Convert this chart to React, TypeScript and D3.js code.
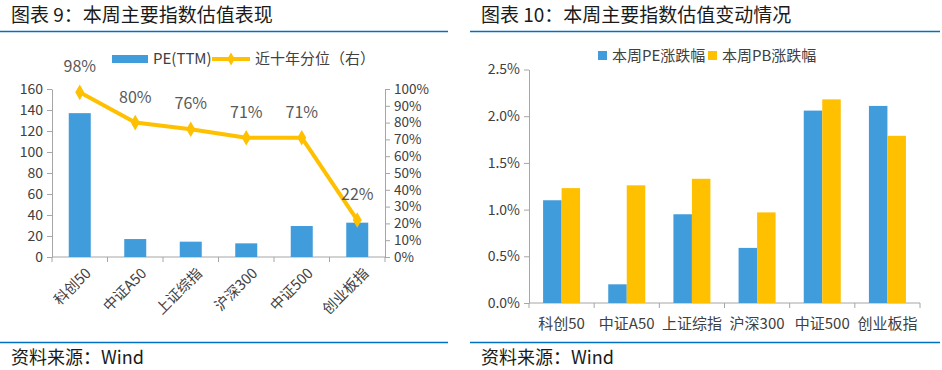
import React, { useEffect, useRef } from "react";
import * as d3 from "d3";

// data
const categories = ["科创50", "中证A50", "上证综指", "沪深300", "中证500", "创业板指"];
const peTTM = [137, 17.1, 14.6, 13, 29.5, 32.7];
const pePercentile = [98, 80, 76, 71, 71, 22];
const peChange = [1.10, 0.20, 0.95, 0.59, 2.06, 2.11];
const pbChange = [1.23, 1.26, 1.33, 0.97, 2.18, 1.79];
const leftTicks = [0, 20, 40, 60, 80, 100, 120, 140, 160];
const rightTicks = [0, 10, 20, 30, 40, 50, 60, 70, 80, 90, 100];
const changeTicks = [0, 0.5, 1.0, 1.5, 2.0, 2.5];

const BLUE = "#419CDC";
const YELLOW = "#FFC000";
const HEAD = "#0070C0";
const AXIS = "#A6A6A6";
const TXT = "#404040";
const FONT = "'Noto Sans CJK SC', 'Noto Sans', sans-serif";

const App = () => {
	const ref = useRef(null);

	useEffect(() => {
		const svg = d3.select(ref.current);
		svg.selectAll("*").remove();
		svg.style("font-family", FONT);

		// headers and footers for both panels
		const panels = [
			{ x0: 0, x1: 448, title: "图表 9：本周主要指数估值表现" },
			{ x0: 470, x1: 940, title: "图表 10：本周主要指数估值变动情况" },
		];
		panels.forEach(p => {
			svg.append("text").attr("x", p.x0 + 11).attr("y", 22)
				.attr("font-size", 19).attr("fill", "#1a1a1a").text(p.title);
			svg.append("line").attr("x1", p.x0).attr("x2", p.x1).attr("y1", 31.5).attr("y2", 31.5)
				.attr("stroke", HEAD).attr("stroke-width", 1.5);
			svg.append("line").attr("x1", p.x0).attr("x2", p.x1).attr("y1", 342.5).attr("y2", 342.5)
				.attr("stroke", HEAD).attr("stroke-width", 1.5);
			svg.append("text").attr("x", p.x0 + 11).attr("y", 364)
				.attr("font-size", 18).attr("fill", "#1a1a1a").text("资料来源：Wind");
		});

		// ---------- left chart ----------
		const g1 = svg.append("g");
		const x1 = d3.scaleBand().domain(categories).range([52, 385]).paddingInner(0).paddingOuter(0);
		const yL = d3.scaleLinear().domain([0, 160]).range([257, 89]);
		const yR = d3.scaleLinear().domain([0, 100]).range([257, 89]);

		g1.append("g").attr("transform", "translate(52,0)")
			.call(d3.axisLeft(yL).tickValues(leftTicks).tickSize(5).tickSizeOuter(0).tickPadding(4))
			.call(a => a.selectAll("text").attr("font-size", 14).attr("fill", TXT).style("font-family", FONT))
			.call(a => a.selectAll("line,path").attr("stroke", AXIS));
		g1.append("g").attr("transform", "translate(385,0)")
			.call(d3.axisRight(yR).tickValues(rightTicks).tickSize(5).tickSizeOuter(0).tickPadding(4).tickFormat(d => d + "%"))
			.call(a => a.selectAll("text").attr("font-size", 13.5).attr("fill", TXT).style("font-family", FONT))
			.call(a => a.selectAll("line,path").attr("stroke", AXIS));

		// x axis with ticks at band edges
		g1.append("line").attr("x1", 52).attr("x2", 385).attr("y1", 257).attr("y2", 257).attr("stroke", AXIS);
		g1.selectAll(".xt").data(categories.concat(["end"])).join("line")
			.attr("x1", (d, i) => 52 + i * x1.bandwidth()).attr("x2", (d, i) => 52 + i * x1.bandwidth())
			.attr("y1", 257).attr("y2", 262).attr("stroke", AXIS);

		const bw1 = 22;
		g1.selectAll(".bar").data(peTTM).join("rect")
			.attr("x", (d, i) => x1(categories[i]) + x1.bandwidth() / 2 - bw1 / 2)
			.attr("y", d => yL(d)).attr("width", bw1).attr("height", d => yL(0) - yL(d))
			.attr("fill", BLUE);

		const cx = (i) => x1(categories[i]) + x1.bandwidth() / 2;
		const line = d3.line().x((d, i) => cx(i)).y(d => yR(d));
		g1.append("path").datum(pePercentile).attr("d", line)
			.attr("fill", "none").attr("stroke", YELLOW).attr("stroke-width", 4).attr("stroke-linejoin", "round");
		g1.selectAll(".mk").data(pePercentile).join("path")
			.attr("d", d3.symbol().type(d3.symbolDiamond).size(70))
			.attr("transform", (d, i) => `translate(${cx(i)},${yR(d)})`)
			.attr("fill", YELLOW);
		g1.selectAll(".lb").data(pePercentile).join("text")
			.attr("x", (d, i) => cx(i)).attr("y", d => yR(d) - 20)
			.attr("text-anchor", "middle").attr("font-size", 16).attr("fill", "#595959")
			.text(d => d + "%");

		g1.selectAll(".xl").data(categories).join("text")
			.attr("transform", (d, i) => `translate(${cx(i) + 5},${267}) rotate(-45)`)
			.attr("text-anchor", "end").attr("dy", "0.7em").attr("font-size", 14.5).attr("fill", TXT)
			.text(d => d);

		// legend
		g1.append("rect").attr("x", 112).attr("y", 55).attr("width", 36).attr("height", 8).attr("fill", BLUE);
		g1.append("text").attr("x", 153).attr("y", 64).attr("font-size", 15).attr("fill", TXT).text("PE(TTM)");
		g1.append("line").attr("x1", 212).attr("x2", 250).attr("y1", 59).attr("y2", 59)
			.attr("stroke", YELLOW).attr("stroke-width", 4);
		g1.append("path").attr("d", d3.symbol().type(d3.symbolDiamond).size(50))
			.attr("transform", "translate(231,59)").attr("fill", YELLOW);
		g1.append("text").attr("x", 255).attr("y", 64).attr("font-size", 15).attr("fill", TXT).text("近十年分位（右）");

		// ---------- right chart ----------
		const g2 = svg.append("g");
		const x2 = d3.scaleBand().domain(categories).range([529, 920]).paddingInner(0).paddingOuter(0);
		const y2 = d3.scaleLinear().domain([0, 2.5]).range([303, 69.5]);

		g2.append("g").attr("transform", "translate(529,0)")
			.call(d3.axisLeft(y2).tickValues(changeTicks).tickSize(5).tickSizeOuter(0).tickPadding(4).tickFormat(d => d3.format(".1f")(d) + "%"))
			.call(a => a.selectAll("text").attr("font-size", 14).attr("fill", TXT).style("font-family", FONT))
			.call(a => a.selectAll("line,path").attr("stroke", AXIS));
		g2.append("line").attr("x1", 529).attr("x2", 920).attr("y1", 303).attr("y2", 303).attr("stroke", AXIS);
		g2.selectAll(".xt").data(categories.concat(["end"])).join("line")
			.attr("x1", (d, i) => 529 + i * x2.bandwidth()).attr("x2", (d, i) => 529 + i * x2.bandwidth())
			.attr("y1", 303).attr("y2", 308).attr("stroke", AXIS);

		const bw2 = 18.5;
		const series = [
			{ vals: peChange, color: BLUE, off: -bw2 },
			{ vals: pbChange, color: YELLOW, off: 0 },
		];
		series.forEach(s => {
			g2.append("g").selectAll("rect").data(s.vals).join("rect")
				.attr("x", (d, i) => x2(categories[i]) + x2.bandwidth() / 2 + s.off)
				.attr("y", d => y2(d)).attr("width", bw2).attr("height", d => y2(0) - y2(d))
				.attr("fill", s.color);
		});
		g2.selectAll(".xl").data(categories).join("text")
			.attr("x", (d, i) => x2(categories[i]) + x2.bandwidth() / 2).attr("y", 329)
			.attr("text-anchor", "middle").attr("font-size", 15).attr("fill", TXT).text(d => d);

		g2.append("rect").attr("x", 598).attr("y", 51).attr("width", 9).attr("height", 9).attr("fill", BLUE);
		g2.append("text").attr("x", 612).attr("y", 61).attr("font-size", 15).attr("fill", TXT).text("本周PE涨跌幅");
		g2.append("rect").attr("x", 708).attr("y", 51).attr("width", 9).attr("height", 9).attr("fill", YELLOW);
		g2.append("text").attr("x", 722).attr("y", 61).attr("font-size", 15).attr("fill", TXT).text("本周PB涨跌幅");
	}, []);

	return (
		<svg ref={ref} width={942} height={370}
			style={{ position: "absolute", left: 0, top: 0, background: "white" }} />
	);
};

export default App;
